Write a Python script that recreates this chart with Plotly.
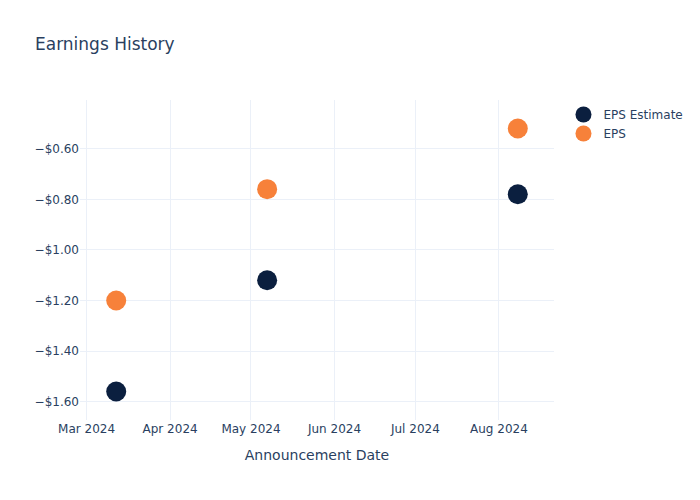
import plotly.graph_objects as go

dates = ["2024-03-12", "2024-05-07", "2024-08-08"]
eps_estimate = [-1.56, -1.12, -0.78]
eps_actual = [-1.20, -0.76, -0.52]

fig = go.Figure()
fig.add_trace(go.Scatter(x=dates, y=eps_estimate, mode="markers", name="EPS Estimate",
                         marker=dict(color="#0b1f3f", size=20)))
fig.add_trace(go.Scatter(x=dates, y=eps_actual, mode="markers", name="EPS",
                         marker=dict(color="#f7813a", size=20)))
fig.update_layout(
    template="plotly_white",
    width=700, height=500,
    font=dict(family="DejaVu Sans"),
    title=dict(text="Earnings History"),
    xaxis=dict(title="Announcement Date"),
    yaxis=dict(tickformat="$.2f"),
)
fig.write_html("out.html", config={"displayModeBar": False},
               post_script="document.body.style.margin='0';")
